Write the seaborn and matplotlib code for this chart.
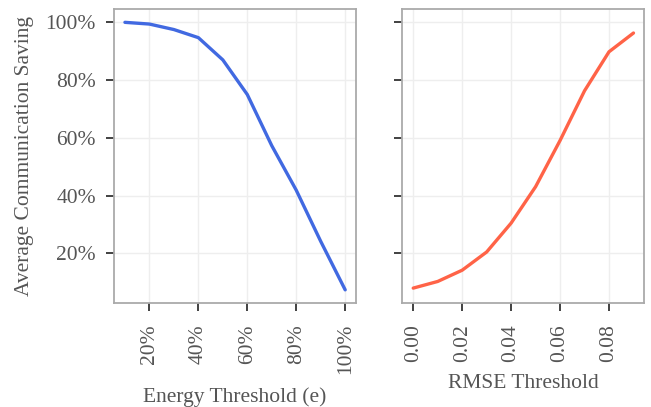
import numpy as np
import pandas as pd
import matplotlib
matplotlib.use("Agg")
import matplotlib.pyplot as plt
import seaborn as sns
from matplotlib.ticker import PercentFormatter

energy_threshold = [0.1, 0.2, 0.3, 0.4, 0.5, 0.6, 0.7, 0.8, 0.9, 1.0]
energy_saving = [100.0, 99.4, 97.5, 94.7, 87.0, 75.0, 57.3, 41.9, 24.2, 7.4]

rmse_threshold = [0.00, 0.01, 0.02, 0.03, 0.04, 0.05, 0.06, 0.07, 0.08, 0.09]
rmse_saving = [8.0, 10.3, 14.2, 20.5, 30.5, 43.1, 59.1, 76.3, 89.8, 96.3]

sns.set_theme(style="whitegrid")
plt.rcParams['font.family'] = ['Liberation Serif', 'DejaVu Serif']
text_color = "#555555"
plt.rcParams.update({
    "text.color": text_color,
    "axes.labelcolor": text_color,
    "xtick.color": "#333333",
    "ytick.color": "#333333",
    "xtick.labelcolor": text_color,
    "ytick.labelcolor": text_color,
    "axes.edgecolor": "#aaaaaa",
    "axes.linewidth": 1.3,
    "grid.color": "#eeeeee",
    "grid.linewidth": 1.0,
})

fig, (ax1, ax2) = plt.subplots(1, 2, figsize=(6.51, 4.07), dpi=100, sharey=True)
fig.subplots_adjust(left=0.175, right=0.99, top=0.978, bottom=0.255, wspace=0.19)

df1 = pd.DataFrame({"x": energy_threshold, "y": energy_saving})
df2 = pd.DataFrame({"x": rmse_threshold, "y": rmse_saving})
sns.lineplot(data=df1, x="x", y="y", ax=ax1, color="#4169E1", linewidth=2.4)
sns.lineplot(data=df2, x="x", y="y", ax=ax2, color="#FF6347", linewidth=2.4)

fs = 15.5
ax1.set_xticks([0.2, 0.4, 0.6, 0.8, 1.0])
ax1.xaxis.set_major_formatter(PercentFormatter(1.0, decimals=0))
ax1.yaxis.set_major_formatter(PercentFormatter(100, decimals=0))
ax1.set_yticks([20, 40, 60, 80, 100])
ax2.set_xticks([0.00, 0.02, 0.04, 0.06, 0.08])
ax2.set_xticklabels(["0.00", "0.02", "0.04", "0.06", "0.08"])

ax1.set_xlabel("Energy Threshold (e)", fontsize=fs, labelpad=9)
ax2.set_xlabel("RMSE Threshold", fontsize=fs, labelpad=9)
ax1.set_ylabel("Average Communication Saving", fontsize=fs, labelpad=8)
ax2.set_ylabel("")

for ax in (ax1, ax2):
    ax.tick_params(axis="both", which="major", length=6, width=1.3, labelsize=fs,
                   bottom=True, left=True, pad=7)
    ax.tick_params(axis="x", labelrotation=90, pad=9)
    for s in ax.spines.values():
        s.set_color("#aaaaaa")
        s.set_linewidth(1.3)

fig.savefig("out.png", dpi=100)
